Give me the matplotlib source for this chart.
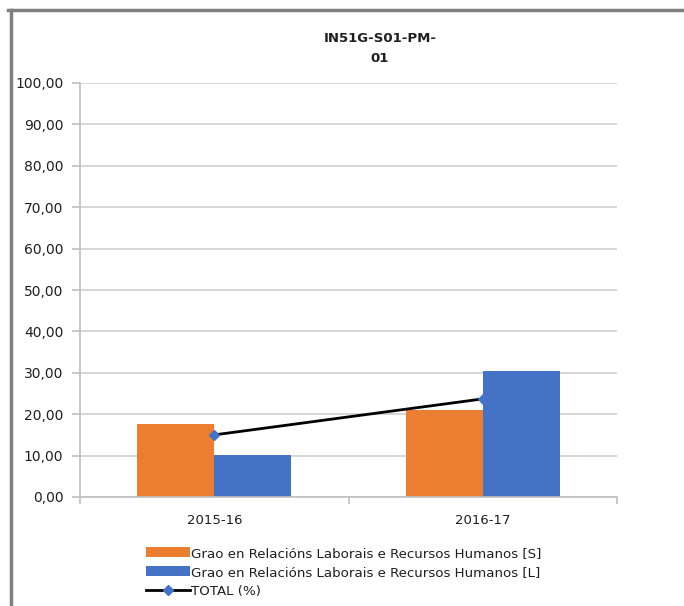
import matplotlib
matplotlib.use("Agg")
import matplotlib.pyplot as plt
from matplotlib.lines import Line2D
import numpy as np

plt.rcParams['font.family'] = ['DejaVu Sans']

categories = ["2015-16", "2016-17"]
series_s = [17.7, 21.1]
series_l = [10.2, 30.5]
total = [15.0, 23.7]
labels = ["Grao en Relacións Laborais e Recursos Humanos [S]",
          "Grao en Relacións Laborais e Recursos Humanos [L]",
          "TOTAL (%)"]
title_lines = ["IN51G-S01-PM-", "01"]
yticks = [0, 10, 20, 30, 40, 50, 60, 70, 80, 90, 100]

fig = plt.figure(figsize=(6.84, 6.06), dpi=100)
ax = fig.add_axes([80/684, 1 - 497/606, (617-80)/684, (497-83)/606])

x = np.arange(len(categories))
w = 0.287
hs = ax.bar(x - w/2, series_s, w, color="#ED7D31", zorder=2, label=labels[0])
hl = ax.bar(x + w/2, series_l, w, color="#4472C4", zorder=2, label=labels[1])
ht, = ax.plot(x, total, color="black", lw=2, marker="D", markersize=5,
              markerfacecolor="#4472C4", markeredgecolor="#4472C4", zorder=3, label=labels[2])

ax.set_xlim(-0.5, 1.5)
ax.set_ylim(0, 100)
ax.set_yticks(yticks)
ax.set_yticklabels([f"{v:.2f}".replace(".", ",") for v in yticks], fontsize=10,
                   color="#1f1f1f")
ax.yaxis.grid(True, color="#d0d0d0", lw=1.2, zorder=0)
ax.set_axisbelow(True)
ax.set_xticks(x)
ax.set_xticklabels(categories, fontsize=9.5, color="#1f1f1f")
ax.set_xticks([-0.5, 0.5, 1.5], minor=True)
ax.tick_params(axis="x", which="major", length=0, pad=12)
ax.tick_params(axis="x", which="minor", length=5, color="#bfbfbf", width=1.2)
ax.tick_params(axis="y", length=6, color="#bfbfbf", width=1.2, pad=6)
for s in ["top", "right"]:
    ax.spines[s].set_visible(False)
for s in ["left", "bottom"]:
    ax.spines[s].set_color("#bfbfbf")
    ax.spines[s].set_linewidth(1.2)

fig.text(380/684, 1 - 38/606, title_lines[0], ha="center", va="center",
         fontsize=9.5, fontweight="bold", color="#1f1f1f")
fig.text(380/684, 1 - 58/606, title_lines[1], ha="center", va="center",
         fontsize=9.5, fontweight="bold", color="#1f1f1f")

leg = fig.legend([hs, hl, ht], labels, loc="upper left", bbox_to_anchor=(146/684, 1 - 547/606),
                 frameon=False, fontsize=9.6, handlelength=3.3, handleheight=0.8,
                 labelspacing=0.45, handletextpad=0.1, borderpad=0, borderaxespad=0)
for t in leg.get_texts():
    t.set_color("#1f1f1f")

# chart frame
fig.add_artist(Line2D([8/684, 1], [1 - 10/606, 1 - 10/606], color="#7f7f7f", lw=2.5,
                      transform=fig.transFigure))
fig.add_artist(Line2D([11/684, 11/684], [0, 1 - 10/606], color="#7f7f7f", lw=2.5,
                      transform=fig.transFigure))

fig.savefig("out.png", dpi=100)
